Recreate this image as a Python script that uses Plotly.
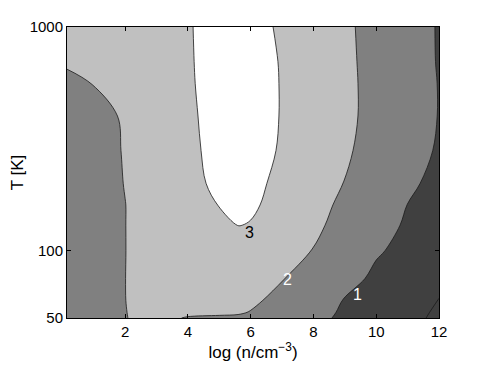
import numpy as np
import plotly.graph_objects as go

# log density columns and temperature rows
log_n = [0.15, 1, 2, 3, 4, 5, 5.6, 6, 7, 8, 9, 10, 11, 12]
temp_k = [50, 53, 60, 75, 100, 130, 160, 200, 280, 400, 560, 700, 1000]

# estimated contour value at each (T, log n) grid point, one row per temperature
z_t50 = [1.4, 1.55, 1.99, 2.1, 1.975, 1.93, 1.92, 1.85, 1.5, 1.2, 0.861, 0.5, 0.2, -0.139]
z_t53 = [1.4, 1.55, 1.99, 2.15, 2.08, 2.08, 2.05, 1.98, 1.6, 1.3, 0.883, 0.5, 0.25, -0.107]
z_t60 = [1.4, 1.55, 1.995, 2.2, 2.15, 2.15, 2.1, 2.1, 1.844, 1.4, 0.956, 0.6, 0.3, -0.03]
z_t75 = [1.4, 1.55, 1.995, 2.3, 2.35, 2.4, 2.35, 2.3, 2.02, 1.82, 1.35, 0.803, 0.55, 0.3]
z_t100 = [1.4, 1.55, 1.99, 2.35, 2.5, 2.55, 2.6, 2.55, 2.25, 1.978, 1.6, 1.1, 0.743, 0.45]
z_t130 = [1.4, 1.55, 1.99, 2.4, 2.6, 2.8, 3.01, 2.98, 2.7, 2.15, 1.745, 1.3, 0.905, 0.5]
z_t160 = [1.45, 1.6, 1.99, 2.4, 2.7, 3.02, 3.1, 3.06, 2.86, 2.2, 1.877, 1.45, 0.99, 0.6]
z_t200 = [1.5, 1.65, 2.022, 2.45, 2.8, 3.145, 3.18, 3.15, 2.86, 2.25, 1.984, 1.55, 1.15, 0.775]
z_t280 = [1.55, 1.7, 2.045, 2.5, 2.85, 3.207, 3.27, 3.25, 2.94, 2.45, 2.1, 1.715, 1.3, 0.925]
z_t400 = [1.6, 1.75, 2.08, 2.55, 2.9, 3.21, 3.3, 3.3, 2.967, 2.5, 2.18, 1.75, 1.33, 0.98]
z_t560 = [1.85, 2.02, 2.35, 2.7, 2.93, 3.23, 3.3, 3.3, 2.967, 2.5, 2.18, 1.751, 1.33, 0.979]
z_t700 = [2.08, 2.3, 2.55, 2.75, 2.93, 3.28, 3.32, 3.3, 2.955, 2.5, 2.17, 1.73, 1.32, 0.96]
z_t1000 = [2.5, 2.55, 2.65, 2.8, 2.95, 3.25, 3.32, 3.3, 2.88, 2.4, 2.15, 1.7, 1.3, 0.955]

z = np.array([z_t50, z_t53, z_t60, z_t75, z_t100, z_t130, z_t160,
              z_t200, z_t280, z_t400, z_t560, z_t700, z_t1000])

# inline contour labels: text, x, T, colour
label_text = ["1", "2", "3"]
label_x = [9.39, 7.16, 5.95]
label_t = [63.4, 74.7, 121]
label_color = ["white", "white", "black"]

# gray steps: below 1 dark, 1-2 mid, 2-3 light, above 3 white
gray_scale = [
    [0.0, "#404040"], [0.375, "#404040"],
    [0.375, "#808080"], [0.625, "#808080"],
    [0.625, "#c0c0c0"], [0.875, "#c0c0c0"],
    [0.875, "#ffffff"], [1.0, "#ffffff"],
]

fig = go.Figure()
fig.add_trace(go.Contour(
    x=log_n, y=temp_k, z=z,
    colorscale=gray_scale,
    showscale=False,
    autocontour=False,
    contours=dict(start=0, end=3, size=1, coloring="fill"),
    line=dict(color="#1a1a1a", width=0.8, smoothing=1),
    hoverinfo="skip",
))

for txt, lx, lt, col in zip(label_text, label_x, label_t, label_color):
    fig.add_annotation(x=lx, y=np.log10(lt), text=txt, showarrow=False,
                       font=dict(size=16, color=col))

axis_style = dict(
    showline=True, linecolor="black", linewidth=1, mirror="ticks",
    ticks="inside", ticklen=4, tickcolor="black",
    showgrid=False, zeroline=False, automargin=False,
    tickfont=dict(size=15, color="black"),
)

# page body has an 8px margin, so the figure is 8px smaller than the window
fig.update_layout(
    width=477, height=357,
    margin=dict(l=59, r=46, t=19, b=47),
    paper_bgcolor="white",
    plot_bgcolor="white",
    font=dict(family="Liberation Sans, Arial, sans-serif", color="black"),
    xaxis=dict(range=[0.15, 12], tickvals=[2, 4, 6, 8, 10, 12],
               title=dict(text="log (n/cm<sup>−3</sup>)", font=dict(size=17), standoff=2),
               **axis_style),
    yaxis=dict(type="log", range=[np.log10(50), 3], tickvals=[50, 100, 1000],
               ticktext=["50", "100", "1000"],
               title=dict(text="T [K]", font=dict(size=17), standoff=10),
               **axis_style),
)

fig.write_html("out.html")
